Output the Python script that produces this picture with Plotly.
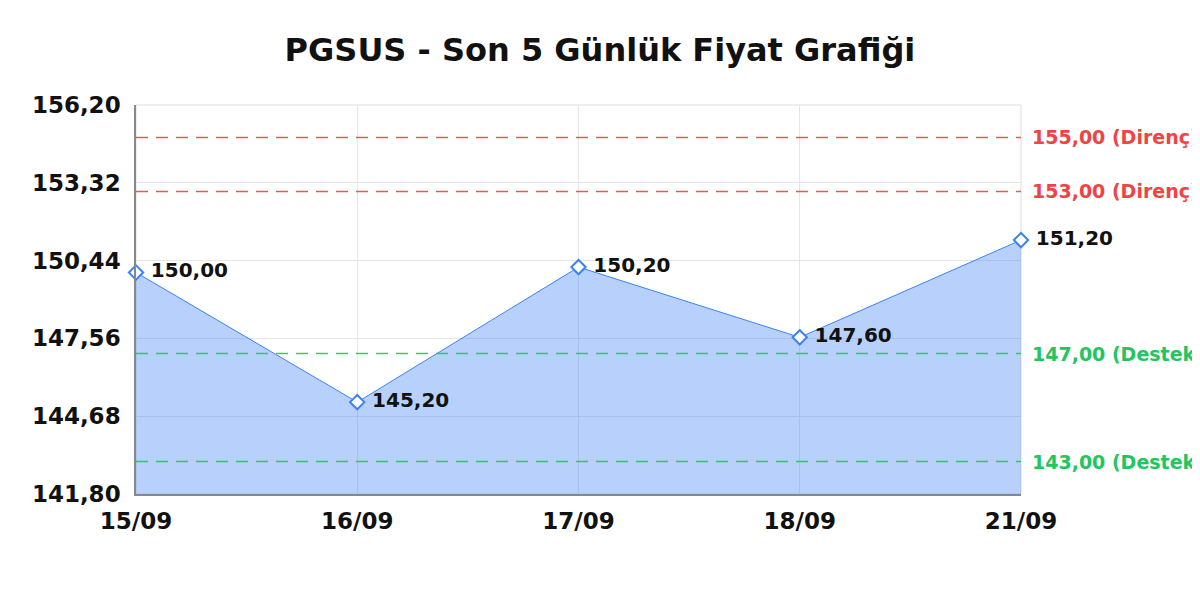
import plotly.graph_objects as go

FONT = "DejaVu Sans"

dates = ["15/09", "16/09", "17/09", "18/09", "21/09"]
prices = [150.00, 145.20, 150.20, 147.60, 151.20]

y_ticks = [141.80, 144.68, 147.56, 150.44, 153.32, 156.20]
y_range = [141.80, 156.20]

resistance = [155.00, 153.00]
support = [147.00, 143.00]

BLUE = "#3b82f6"
RED = "#ef4444"
GREEN = "#22c55e"


def tr_num(v):
    """Turkish style decimal: 150.2 -> '150,20'."""
    return f"{v:.2f}".replace(".", ",")


fig = go.Figure()
fig.add_trace(go.Scatter(
    x=dates,
    y=prices,
    mode="lines+markers+text",
    fill="tozeroy",
    fillcolor="rgba(59,130,246,0.37)",
    line={"color": BLUE, "width": 1},
    marker={"symbol": "diamond", "size": 11, "color": "white",
            "line": {"color": BLUE, "width": 2}},
    text=["\u00a0" + tr_num(p) for p in prices],
    textposition="middle right",
    textfont={"family": FONT, "size": 20, "color": "#111", "weight": "bold"},
    cliponaxis=False,
    hoverinfo="skip",
    showlegend=False,
))

shapes = []
annotations = []
for levels, color, tag in ((resistance, RED, "Direnç"), (support, GREEN, "Destek")):
    for lv in levels:
        shapes.append({
            "type": "line", "xref": "paper", "x0": 0, "x1": 1,
            "yref": "y", "y0": lv, "y1": lv,
            "line": {"color": color, "width": 1.5, "dash": "12px,8px"},
            "opacity": 0.9,
        })
        annotations.append({
            "xref": "paper", "x": 1, "xanchor": "left", "xshift": 9,
            "yref": "y", "y": lv, "yanchor": "middle",
            "text": f"{tr_num(lv)} ({tag})", "showarrow": False,
            "font": {"family": FONT, "size": 19, "color": color, "weight": "bold"},
        })

# light border around plot area (top/right)
shapes.append({
    "type": "rect", "xref": "paper", "yref": "paper",
    "x0": 0, "x1": 1, "y0": 0, "y1": 1,
    "line": {"color": "#dddddd", "width": 1}, "layer": "below",
})

fig.update_layout(
    width=1200, height=600,
    title={"text": "PGSUS - Son 5 Günlük Fiyat Grafiği", "x": 0.4933, "xanchor": "center",
           "xref": "container",
           "y": 0.93, "yanchor": "middle",
           "font": {"family": FONT, "size": 32, "color": "#111", "weight": "bold"}},
    margin={"l": 128, "r": 187, "t": 97, "b": 114},
    plot_bgcolor="white", paper_bgcolor="white",
    shapes=shapes, annotations=annotations,
    font={"family": FONT},
)
fig.update_xaxes(
    type="category", range=[0, len(dates) - 1],
    showgrid=True, gridcolor="#e6e6e6",
    showline=True, linecolor="#888888", linewidth=1.5,
    ticks="", ticklabelstandoff=6,
    tickfont={"family": FONT, "size": 23, "color": "#111", "weight": "bold"},
    zeroline=False,
)
fig.update_yaxes(
    range=y_range, tickvals=y_ticks, ticktext=[tr_num(v) for v in y_ticks],
    showgrid=True, gridcolor="#e6e6e6",
    showline=True, linecolor="#888888", linewidth=1.5,
    ticks="", ticklabelstandoff=9,
    tickfont={"family": FONT, "size": 23, "color": "#111", "weight": "bold"},
    zeroline=False,
)

fig.write_html("out.html")
